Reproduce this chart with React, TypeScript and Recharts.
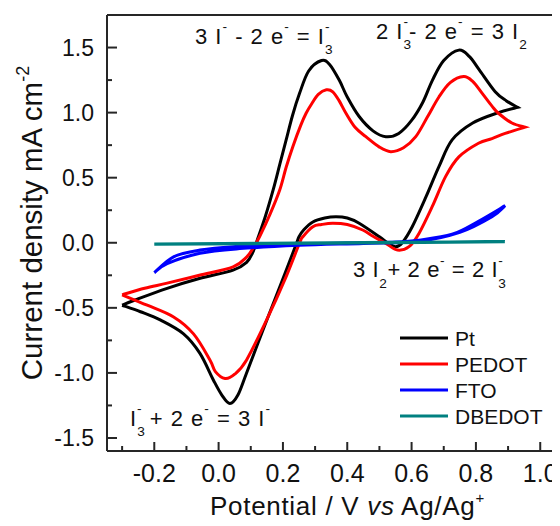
import React from 'react';
import { LineChart, Line, XAxis, YAxis, ReferenceLine } from 'recharts';

// ---------- data (potential V vs Ag/Ag+, current density mA cm^-2) ----------
const ptPotential = [-0.30, -0.26, -0.16, -0.06, 0.045, 0.087, 0.107, 0.12, 0.145, 0.17, 0.19, 0.21, 0.23, 0.252, 0.28, 0.32, 0.345, 0.375, 0.40, 0.437, 0.48, 0.52, 0.56, 0.60, 0.635, 0.665, 0.70, 0.747, 0.78, 0.81, 0.86, 0.895, 0.93,
  0.87, 0.79, 0.726, 0.685, 0.645, 0.602, 0.571, 0.551, 0.525, 0.50, 0.437, 0.40, 0.365, 0.33, 0.293, 0.265, 0.25, 0.24, 0.19, 0.138, 0.087, 0.06, 0.035, 0.01, -0.016, -0.058, -0.109, -0.18, -0.243, -0.30];
const ptCurrent = [-0.48, -0.44, -0.35, -0.275, -0.21, -0.15, -0.07, 0.02, 0.2, 0.41, 0.6, 0.79, 0.98, 1.15, 1.32, 1.40, 1.37, 1.25, 1.12, 0.97, 0.86, 0.815, 0.84, 0.94, 1.08, 1.25, 1.40, 1.48, 1.43, 1.33, 1.16, 1.09, 1.04,
  1.0, 0.92, 0.79, 0.585, 0.354, 0.123, 0.0, -0.03, 0.0, 0.046, 0.15, 0.19, 0.2, 0.19, 0.16, 0.1, 0.046, -0.02, -0.34, -0.67, -1.0, -1.17, -1.235, -1.17, -1.056, -0.85, -0.70, -0.595, -0.53, -0.48];

const pedotPotential = [-0.30, -0.23, -0.16, -0.06, 0.045, 0.087, 0.11, 0.128, 0.16, 0.19, 0.21, 0.231, 0.255, 0.272, 0.29, 0.31, 0.335, 0.355, 0.375, 0.396, 0.425, 0.458, 0.50, 0.535, 0.575, 0.613, 0.65, 0.685, 0.72, 0.762, 0.79, 0.819, 0.85, 0.87, 0.912, 0.953,
  0.891, 0.85, 0.808, 0.747, 0.706, 0.664, 0.623, 0.592, 0.556, 0.52, 0.48, 0.448, 0.40, 0.355, 0.32, 0.293, 0.262, 0.252, 0.21, 0.149, 0.087, 0.05, 0.02, -0.01, -0.027, -0.078, -0.14, -0.222, -0.30];
const pedotCurrent = [-0.40, -0.35, -0.31, -0.25, -0.185, -0.11, -0.03, 0.05, 0.22, 0.405, 0.58, 0.74, 0.9, 0.995, 1.07, 1.14, 1.175, 1.16, 1.09, 0.995, 0.885, 0.815, 0.735, 0.70, 0.73, 0.815, 0.97, 1.12, 1.23, 1.277, 1.24, 1.15, 1.05, 0.995, 0.92, 0.888,
  0.84, 0.80, 0.765, 0.66, 0.51, 0.277, 0.072, -0.03, -0.056, -0.005, 0.05, 0.098, 0.14, 0.15, 0.14, 0.123, 0.046, 0.0, -0.26, -0.595, -0.90, -1.01, -1.043, -0.99, -0.90, -0.70, -0.57, -0.48, -0.40];

const ftoPotential = [-0.20, -0.14, -0.058, 0.045, 0.25, 0.45, 0.55, 0.623, 0.726, 0.808, 0.891, 0.85, 0.75, 0.62, 0.45, 0.25, 0.066, -0.058, -0.16, -0.20];
const ftoCurrent = [-0.23, -0.108, -0.056, -0.03, -0.01, 0.0, 0.005, 0.02, 0.065, 0.165, 0.285, 0.2, 0.08, 0.01, -0.005, -0.02, -0.045, -0.08, -0.16, -0.23];

const dbedotPotential = [-0.20, 0.35, 0.89, 0.35, -0.20];
const dbedotCurrent = [-0.01, 0.0, 0.008, -0.003, -0.012];

const seriesNames = ['Pt', 'PEDOT', 'FTO', 'DBEDOT'];
const seriesColors = ['#000000', '#ff0000', '#0000ff', '#008080'];

const xTicks = [-0.3, -0.2, -0.1, 0, 0.1, 0.2, 0.3, 0.4, 0.5, 0.6, 0.7, 0.8, 0.9, 1.0];
const yTicks = [-1.5, -1.25, -1, -0.75, -0.5, -0.25, 0, 0.25, 0.5, 0.75, 1, 1.25, 1.5];

const toRows = (xs: number[], ys: number[]) => xs.map((x, i) => ({ x, y: ys[i] }));
const seriesData = [
  toRows(ptPotential, ptCurrent),
  toRows(pedotPotential, pedotCurrent),
  toRows(ftoPotential, ftoCurrent),
  toRows(dbedotPotential, dbedotCurrent),
];

// ---------- layout ----------
const FONT = '"Liberation Sans", Arial, Helvetica, sans-serif';
const AXIS = '#262626';
const PLOT_LEFT = 99;
const PLOT_BOTTOM = 443;

// Catmull-Rom curve with sharp corners where the scan direction reverses
const cvCurve = (context: any) => {
  let pts: number[][] = [];
  return {
    areaStart() {},
    areaEnd() {},
    lineStart() { pts = []; },
    point(x: number, y: number) { pts.push([+x, +y]); },
    lineEnd() {
      const n = pts.length;
      if (!n) return;
      const corner = (i: number) => {
        if (i <= 0 || i >= n - 1) return true;
        return (pts[i][0] - pts[i - 1][0]) * (pts[i + 1][0] - pts[i][0]) < 0;
      };
      context.moveTo(pts[0][0], pts[0][1]);
      for (let i = 0; i < n - 1; i++) {
        const p1 = pts[i];
        const p2 = pts[i + 1];
        const p0 = corner(i) ? p1 : pts[i - 1];
        const p3 = corner(i + 1) ? p2 : pts[i + 2];
        const t = 1 / 6;
        context.bezierCurveTo(
          p1[0] + (p2[0] - p0[0]) * t, p1[1] + (p2[1] - p0[1]) * t,
          p2[0] - (p3[0] - p1[0]) * t, p2[1] - (p3[1] - p1[1]) * t,
          p2[0], p2[1]
        );
      }
    },
  };
};

const YTick = (props: any) => {
  const { y, payload } = props;
  const v = payload.value as number;
  const major = Math.abs(v * 2 - Math.round(v * 2)) < 1e-6;
  return (
    <g>
      <line x1={PLOT_LEFT} x2={PLOT_LEFT + (major ? 10 : 5)} y1={y} y2={y} stroke={AXIS} strokeWidth={2} />
      {major && (
        <text x={PLOT_LEFT - 13} y={y} dy={8} textAnchor="end" fontSize={23} fontFamily={FONT} fill="#111">
          {v.toFixed(1)}
        </text>
      )}
    </g>
  );
};

const XTick = (props: any) => {
  const { x, payload } = props;
  const v = payload.value as number;
  const major = Math.round(v * 10) % 2 === 0;
  return (
    <g>
      <line x1={x} x2={x} y1={PLOT_BOTTOM} y2={PLOT_BOTTOM - (major ? 9 : 5)} stroke={AXIS} strokeWidth={2} />
      {major && (
        <text x={x} y={PLOT_BOTTOM + 30.5} textAnchor="middle" fontSize={25} fontFamily={FONT} fill="#111">
          {v.toFixed(1)}
        </text>
      )}
    </g>
  );
};

type Seg = { t: string; k?: 'sub' | 'sup' | 'subsup'; s?: string };

const Chem = ({ x, y, size, segs, ls = 1 }: { x: number; y: number; size: number; segs: Seg[]; ls?: number }) => {
  const small = size * 0.62;
  const subD = size * 0.48;
  const supD = -size * 0.55;
  let off = 0;
  const out: React.ReactNode[] = [];
  segs.forEach((g, i) => {
    if (!g.k) {
      out.push(<tspan key={i} dy={-off} fontSize={size}>{g.t}</tspan>);
      off = 0;
    } else if (g.k === 'sup') {
      out.push(<tspan key={i} dy={supD - off} fontSize={small}>{g.t}</tspan>);
      off = supD;
    } else if (g.k === 'sub') {
      out.push(<tspan key={i} dy={subD - off} fontSize={small}>{g.t}</tspan>);
      off = subD;
    } else {
      out.push(<tspan key={i + 'a'} dy={subD - off} fontSize={small}>{g.t}</tspan>);
      out.push(<tspan key={i + 'b'} dx={-small * 0.556 - ls} dy={supD - subD} fontSize={small}>{g.s}</tspan>);
      off = supD;
    }
  });
  return (
    <text x={x} y={y} fontFamily={FONT} fill="#111" style={{ whiteSpace: 'pre', letterSpacing: ls }}>
      {out}
    </text>
  );
};

export default function App() {
  return (
    <div style={{ position: 'relative', width: 552, height: 518, overflow: 'hidden' }}>
      <style>{'html,body{overflow:hidden}'}</style>
      <LineChart width={600} height={518} margin={{ top: 7, right: 35.6, bottom: 0, left: 0 }}>
        <XAxis
          dataKey="x"
          type="number"
          domain={[-0.347, 1.1]}
          ticks={xTicks}
          interval={0}
          allowDataOverflow
          height={75}
          tickLine={false}
          axisLine={{ stroke: AXIS, strokeWidth: 2 }}
          tick={<XTick />}
        />
        <YAxis
          dataKey="y"
          type="number"
          domain={[-1.6, 1.75]}
          ticks={yTicks}
          interval={0}
          allowDataOverflow
          width={99}
          tickLine={false}
          axisLine={{ stroke: AXIS, strokeWidth: 2 }}
          tick={<YTick />}
        />
        <ReferenceLine y={1.75} stroke={AXIS} strokeWidth={2} />
        {seriesData.map((d, i) => (
          <Line
            key={seriesNames[i]}
            data={d}
            dataKey="y"
            name={seriesNames[i]}
            type={cvCurve as any}
            stroke={seriesColors[i]}
            strokeWidth={3}
            dot={false}
            activeDot={false}
            isAnimationActive={false}
          />
        ))}
      </LineChart>
      <svg width={552} height={518} style={{ position: 'absolute', left: 0, top: 0, pointerEvents: 'none' }}>
        <g transform="translate(-8,-8)">
          <Chem x={195} y={43.5} size={22} segs={[{ t: '3 I' }, { t: '-', k: 'sup' }, { t: ' - 2 e' }, { t: '-', k: 'sup' }, { t: ' = I' }, { t: '3', k: 'subsup', s: '-' }]} />
          <Chem x={376} y={38.5} size={22} segs={[{ t: '2 I' }, { t: '3', k: 'subsup', s: '-' }, { t: '- 2 e' }, { t: '-', k: 'sup' }, { t: ' = 3 I' }, { t: '2', k: 'sub' }]} />
          <Chem x={353} y={277} size={22} ls={0.6} segs={[{ t: '3 I' }, { t: '2', k: 'sub' }, { t: '+ 2 e' }, { t: '-', k: 'sup' }, { t: ' = 2 I' }, { t: '3', k: 'subsup', s: '-' }]} />
          <Chem x={130} y={425.5} size={22} segs={[{ t: 'I' }, { t: '3', k: 'subsup', s: '-' }, { t: ' + 2 e' }, { t: '-', k: 'sup' }, { t: ' = 3 I' }, { t: '-', k: 'sup' }]} />

          <text transform="rotate(-90, 42, 223)" x={42} y={223} textAnchor="middle" fontFamily={FONT} fontSize={29.5} fill="#111" style={{ whiteSpace: 'pre' }}>
            <tspan>Current density mA cm</tspan>
            <tspan dy={-13} fontSize={18}>-2</tspan>
          </text>

          <text x={210} y={515} fontFamily={FONT} fontSize={26} fill="#111" style={{ whiteSpace: 'pre', letterSpacing: 0.7 }}>
            <tspan>Potential / V </tspan>
            <tspan fontStyle="italic">vs</tspan>
            <tspan> Ag/Ag</tspan>
            <tspan dy={-12} fontSize={15}>+</tspan>
          </text>

          {seriesNames.map((n, i) => (
            <g key={n}>
              <line x1={400} x2={448} y1={338 + i * 26} y2={338 + i * 26} stroke={seriesColors[i]} strokeWidth={3} />
              <text x={455} y={346 + i * 26} fontFamily={FONT} fontSize={21} fill="#111">{n}</text>
            </g>
          ))}
        </g>
      </svg>
    </div>
  );
}
